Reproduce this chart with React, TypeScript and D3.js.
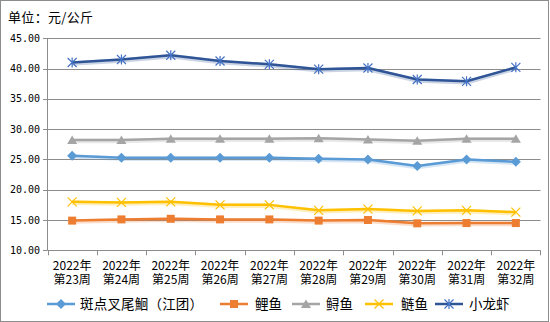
import React from "react";
import * as d3 from "d3";

const categories = ["2022年\n第23周", "2022年\n第24周", "2022年\n第25周", "2022年\n第26周", "2022年\n第27周", "2022年\n第28周", "2022年\n第29周", "2022年\n第30周", "2022年\n第31周", "2022年\n第32周"];
const seriesNames = ["斑点叉尾鮰（江团）", "鲤鱼", "鲟鱼", "鲢鱼", "小龙虾"];
const banDian = [25.6, 25.3, 25.3, 25.3, 25.3, 25.1, 25.0, 23.9, 25.0, 24.6];
const liYu = [14.9, 15.1, 15.2, 15.1, 15.1, 14.9, 15.0, 14.45, 14.5, 14.5];
const xunYu = [28.2, 28.2, 28.4, 28.4, 28.4, 28.5, 28.3, 28.1, 28.4, 28.4];
const lianYu = [18.0, 17.9, 18.0, 17.5, 17.5, 16.6, 16.8, 16.5, 16.6, 16.3];
const xiaoLongXia = [41.0, 41.5, 42.2, 41.25, 40.7, 39.9, 40.1, 38.2, 37.9, 40.2];
const yTicks = [10, 15, 20, 25, 30, 35, 40, 45];

const colors = ["#5B9BD5", "#ED7D31", "#A5A5A5", "#FFC000", "#2F5597"];
const markerColors = ["#5B9BD5", "#ED7D31", "#A5A5A5", "#FFC000", "#4472C4"];
const markers = ["diamond", "square", "triangle", "x", "star"];
const allSeries = [banDian, liYu, xunYu, lianYu, xiaoLongXia];

function Marker({ type, x, y, color }: { type: string; x: number; y: number; color: string }) {
  if (type === "diamond") {
    return <path d={`M${x},${y - 5}L${x + 5},${y}L${x},${y + 5}L${x - 5},${y}Z`} fill={color} />;
  }
  if (type === "square") {
    return <rect x={x - 4} y={y - 4} width={8} height={8} fill={color} />;
  }
  if (type === "triangle") {
    return <path d={`M${x},${y - 4.5}L${x + 5},${y + 4}L${x - 5},${y + 4}Z`} fill={color} />;
  }
  if (type === "x") {
    return (
      <path d={`M${x - 4.5},${y - 4.5}L${x + 4.5},${y + 4.5}M${x + 4.5},${y - 4.5}L${x - 4.5},${y + 4.5}`} stroke={color} strokeWidth={1.2} fill="none" />
    );
  }
  return (
    <path
      d={`M${x - 4.5},${y - 4.5}L${x + 4.5},${y + 4.5}M${x + 4.5},${y - 4.5}L${x - 4.5},${y + 4.5}M${x},${y - 5}L${x},${y + 5}`}
      stroke={color}
      strokeWidth={1.2}
      fill="none"
    />
  );
}

export default function App() {
  const W = 550, H = 322;
  const left = 47.5, right = 540.5, top = 38.3, bottom = 250.3;
  const x = d3.scaleBand<string>().domain(categories).range([left, right]);
  const y = d3.scaleLinear().domain([10, 45]).range([bottom, top]);
  const line = d3
    .line<number>()
    .x((_, i) => (x(categories[i]) as number) + x.bandwidth() / 2)
    .y((d) => y(d));
  const grid = "#8C8C8C";
  const numFont = "'DejaVu Sans Mono', monospace";
  const cjkFont = "'Noto Sans CJK SC', sans-serif";

  const legendItems = [
    { lx: 47, tx: 80, len: 123 },
    { lx: 220, tx: 255, len: 0 },
    { lx: 292, tx: 326, len: 0 },
    { lx: 365, tx: 401, len: 0 },
    { lx: 435, tx: 469, len: 0 },
  ];

  return (
    <svg width={W} height={H} style={{ position: "absolute", left: 0, top: 0, background: "#fff" }}>
      <rect x={0.5} y={0.5} width={548} height={321} fill="#fff" stroke="#8C8C8C" strokeWidth={1} />
      <text x={8} y={22} fontFamily={cjkFont} fontSize={13} fill="#000" textLength={85} lengthAdjust="spacing">单位：元/公斤</text>
      {yTicks.map((t) => (
        <g key={t}>
          <line x1={43} x2={t === 10 ? left : right} y1={Math.round(y(t)) + 0.5} y2={Math.round(y(t)) + 0.5} stroke={grid} strokeWidth={1} />
          <text x={40} y={y(t)} dy="0.35em" textAnchor="end" fontFamily={numFont} fontSize={10} fill="#000">
            {t.toFixed(2)}
          </text>
        </g>
      ))}
      <line x1={left} x2={left} y1={top} y2={bottom} stroke={grid} strokeWidth={1} />
      <line x1={left} x2={right} y1={Math.round(bottom) + 0.5} y2={Math.round(bottom) + 0.5} stroke={grid} strokeWidth={1} />
      {categories.map((c, i) => (
        <line key={"t" + i} x1={Math.round(x(c) as number) + 0.5} x2={Math.round(x(c) as number) + 0.5} y1={bottom} y2={bottom + 5} stroke={grid} />
      ))}
      <line x1={right} x2={right} y1={bottom} y2={bottom + 5} stroke={grid} />
      {categories.map((c, i) => {
        const cx = (x(c) as number) + x.bandwidth() / 2;
        const parts = c.split("\n");
        return (
          <g key={"l" + i}>
            <text x={cx} y={270} textAnchor="middle" fontFamily={cjkFont} fontSize={12} fill="#000">{parts[0]}</text>
            <text x={cx} y={284} textAnchor="middle" fontFamily={cjkFont} fontSize={12} fill="#000">{parts[1]}</text>
          </g>
        );
      })}
      {allSeries.map((s, si) => (
        <g key={"s" + si}>
          <path d={line(s) as string} fill="none" stroke={colors[si]} strokeOpacity={0.25} strokeWidth={4.5} transform="translate(0,1)" strokeLinejoin="round" />
          <path d={line(s) as string} fill="none" stroke={colors[si]} strokeWidth={2.5} strokeLinejoin="round" />
          {s.map((v, i) => (
            <Marker key={i} type={markers[si]} x={(x(categories[i]) as number) + x.bandwidth() / 2} y={y(v)} color={markerColors[si]} />
          ))}
        </g>
      ))}
      {seriesNames.map((n, i) => {
        const it = legendItems[i];
        const ly = 304;
        const extra = it.len ? { textLength: it.len, lengthAdjust: "spacing" } : {};
        return (
          <g key={"lg" + i}>
            <line x1={it.lx} x2={it.lx + 28} y1={ly} y2={ly} stroke={colors[i]} strokeWidth={2.5} />
            <Marker type={markers[i]} x={it.lx + 14} y={ly} color={markerColors[i]} />
            <text x={it.tx} y={ly} dy="0.36em" fontFamily={cjkFont} fontSize={13.5} fill="#000" {...extra}>
              {n}
            </text>
          </g>
        );
      })}
    </svg>
  );
}
